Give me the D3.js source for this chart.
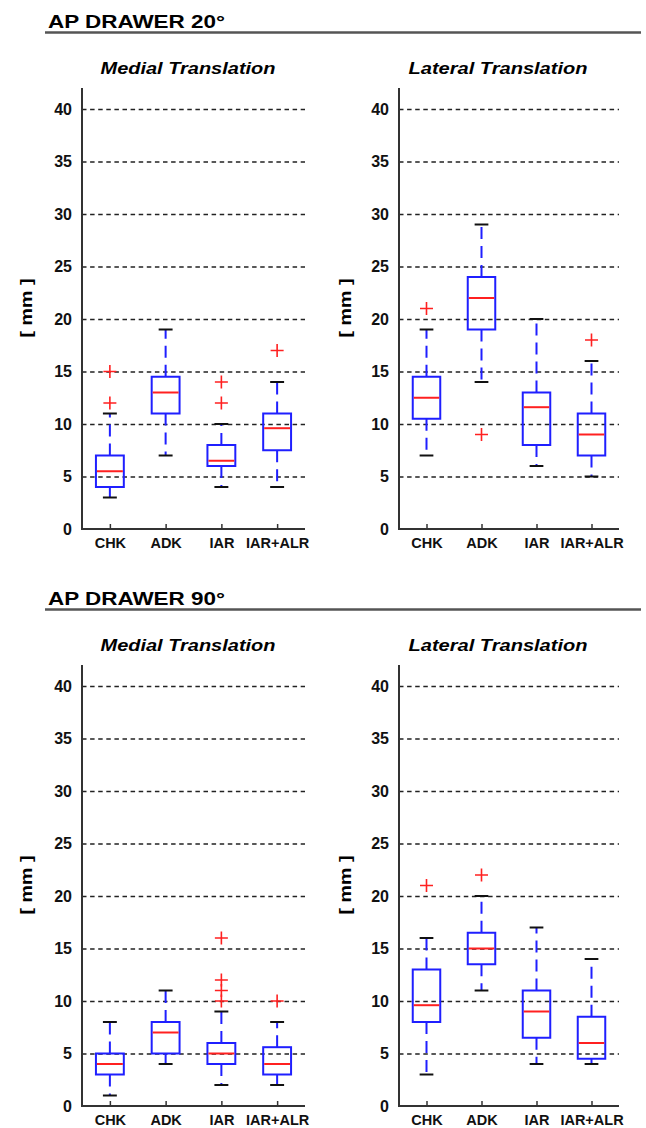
<!DOCTYPE html>
<html lang="en">
<head>
<meta charset="UTF-8">
<script src="https://cdn.jsdelivr.net/npm/d3@7"></script>
<title>AP drawer</title>
<style>
  body { margin: 0; background: #fff; }
  svg { display: block; font-family: Arial, "Liberation Sans", sans-serif; }
</style>
</head>
<body>
<svg id="main_svg" width="646" height="1128"></svg>
<script>
// categories and ticks
var categories = ["CHK", "ADK", "IAR", "IAR+ALR"];
var yTicks = [0, 5, 10, 15, 20, 25, 30, 35, 40];

// box stats per group: [lower whisker, q1, median, q3, upper whisker]
var medial20 = [[3, 4, 5.5, 7, 11], [7, 11, 13, 14.5, 19], [4, 6, 6.5, 8, 10], [4, 7.5, 9.6, 11, 14]];
var medial20Outliers = [[12, 15], [], [12, 14], [17]];
var lateral20 = [[7, 10.5, 12.5, 14.5, 19], [14, 19, 22, 24, 29], [6, 8, 11.6, 13, 20], [5, 7, 9, 11, 16]];
var lateral20Outliers = [[21], [9], [], [18]];
var medial90 = [[1, 3, 4, 5, 8], [4, 5, 7, 8, 11], [2, 4, 5, 6, 9], [2, 3, 4, 5.6, 8]];
var medial90Outliers = [[], [], [10, 11, 12, 16], [10]];
var lateral90 = [[3, 8, 9.6, 13, 16], [11, 13.5, 15, 16.5, 20], [4, 6.5, 9, 11, 17], [4, 4.5, 6, 8.5, 14]];
var lateral90Outliers = [[21], [22], [], []];

var sectionTitles = ["AP DRAWER 20\u00B0", "AP DRAWER 90\u00B0"];
var panelTitles = ["Medial Translation", "Lateral Translation"];

var svg = d3.select("#main_svg");

var sectionOffset = 577;   // vertical distance between the two blocks
var cols = [
    { x0: 82, x1: 305, titleX: 188, titleLen: 175, labelX: 26 },
    { x0: 399, x1: 619, titleX: 498, titleLen: 179, labelX: 345 }
];
var panels = [
    { row: 0, col: 0, stats: medial20, out: medial20Outliers },
    { row: 0, col: 1, stats: lateral20, out: lateral20Outliers },
    { row: 1, col: 0, stats: medial90, out: medial90Outliers },
    { row: 1, col: 1, stats: lateral90, out: lateral90Outliers }
];

// section headers
sectionTitles.forEach(function (t, i) {
    var off = i * sectionOffset;
    svg.append("text")
        .attr("x", 48)
        .attr("y", 28 + off)
        .attr("font-size", "18.5px")
        .attr("font-weight", "bold")
        .attr("textLength", 177)
        .attr("lengthAdjust", "spacingAndGlyphs")
        .text(t);
    svg.append("line")
        .attr("x1", 45).attr("x2", 641)
        .attr("y1", 32.5 + off).attr("y2", 32.5 + off)
        .attr("stroke", "#555")
        .attr("stroke-width", 2.5);
});

panels.forEach(function (p) {
    var c = cols[p.col];
    var off = p.row * sectionOffset;
    var y0 = 529 + off;

    var x = d3.scaleLinear().domain([0.5, 4.5]).range([c.x0, c.x1]);
    var y = d3.scaleLinear().domain([0, 42]).range([y0, y0 - 42 * 10.5]);
    var g = svg.append("g");

    // panel title
    g.append("text")
        .attr("x", c.titleX)
        .attr("y", 74 + off)
        .attr("text-anchor", "middle")
        .attr("font-size", "16px")
        .attr("font-weight", "bold")
        .attr("font-style", "italic")
        .attr("textLength", c.titleLen)
        .attr("lengthAdjust", "spacingAndGlyphs")
        .text(panelTitles[p.col]);

    // y label
    g.append("text")
        .attr("transform", "translate(" + c.labelX + "," + (308 + off) + ") rotate(-90)")
        .attr("text-anchor", "middle")
        .attr("dy", "0.35em")
        .attr("font-size", "17px")
        .attr("font-weight", "bold")
        .attr("textLength", 59)
        .attr("lengthAdjust", "spacingAndGlyphs")
        .text("[ mm ]");

    // dashed grid
    var grid = g.append("g")
        .attr("transform", "translate(" + c.x0 + ",0)")
        .call(d3.axisLeft(y).tickValues(yTicks.slice(1)).tickSize(-(c.x1 - c.x0)).tickFormat(""));
    grid.select(".domain").remove();
    grid.selectAll(".tick line")
        .attr("stroke", "#222")
        .attr("stroke-width", 1.6)
        .attr("stroke-dasharray", "4.5,3.6");

    // y tick labels
    var ya = g.append("g")
        .attr("transform", "translate(" + c.x0 + ",0)")
        .call(d3.axisLeft(y).tickValues(yTicks).tickSize(0).tickPadding(10));
    ya.select(".domain").remove();
    ya.selectAll("text")
        .attr("font-size", "16px")
        .attr("font-weight", "bold")
        .attr("font-family", "Arial, 'Liberation Sans', sans-serif")
        .attr("fill", "#111");

    // x axis with inward ticks
    var xa = g.append("g")
        .attr("transform", "translate(0," + y0 + ")")
        .call(d3.axisBottom(x).tickValues([1, 2, 3, 4]).tickSize(-5)
            .tickFormat(function (d) { return categories[d - 1]; }));
    xa.select(".domain").remove();
    xa.selectAll(".tick line").attr("stroke", "#333").attr("stroke-width", 1.5);
    xa.selectAll("text")
        .attr("y", 18.5)
        .attr("dy", null)
        .attr("font-size", "14.5px")
        .attr("font-weight", "bold")
        .attr("font-family", "Arial, 'Liberation Sans', sans-serif")
        .attr("fill", "#111");

    // axis lines
    g.append("line")
        .attr("x1", c.x0).attr("x2", c.x0)
        .attr("y1", y(42)).attr("y2", y0 + 1)
        .attr("stroke", "#333").attr("stroke-width", 2);
    g.append("line")
        .attr("x1", c.x0 - 1).attr("x2", c.x1)
        .attr("y1", y0).attr("y2", y0)
        .attr("stroke", "#333").attr("stroke-width", 2);

    // boxes
    var half = (x(1.25) - x(1));
    var capHalf = half / 2;
    var boxes = g.selectAll(".bx")
        .data(p.stats)
        .enter()
        .append("g")
        .attr("class", "bx");

    boxes.each(function (d, i) {
        var cx = x(i + 1);
        var b = d3.select(this);
        // whiskers
        [[d[3], d[4]], [d[1], d[0]]].forEach(function (w) {
            b.append("line")
                .attr("x1", cx).attr("x2", cx)
                .attr("y1", y(w[0])).attr("y2", y(w[1]))
                .attr("stroke", "#1f1fff")
                .attr("stroke-width", 2)
                .attr("stroke-dasharray", "12,7");
            b.append("line")
                .attr("x1", cx - capHalf).attr("x2", cx + capHalf)
                .attr("y1", y(w[1])).attr("y2", y(w[1]))
                .attr("stroke", "#111")
                .attr("stroke-width", 2);
        });
        b.append("rect")
            .attr("x", cx - half)
            .attr("y", y(d[3]))
            .attr("width", half * 2)
            .attr("height", y(d[1]) - y(d[3]))
            .attr("fill", "none")
            .attr("stroke", "#1f1fff")
            .attr("stroke-width", 2);
        b.append("line")
            .attr("x1", cx - half + 1).attr("x2", cx + half - 1)
            .attr("y1", y(d[2])).attr("y2", y(d[2]))
            .attr("stroke", "#ff2020")
            .attr("stroke-width", 2);
        // outliers
        p.out[i].forEach(function (v) {
            b.append("path")
                .attr("d", "M" + (cx - 6.5) + "," + y(v) + "h13M" + cx + "," + (y(v) - 6.5) + "v13")
                .attr("stroke", "#ff2020")
                .attr("stroke-width", 1.6)
                .attr("fill", "none");
        });
    });
});
</script>
</body>
</html>
